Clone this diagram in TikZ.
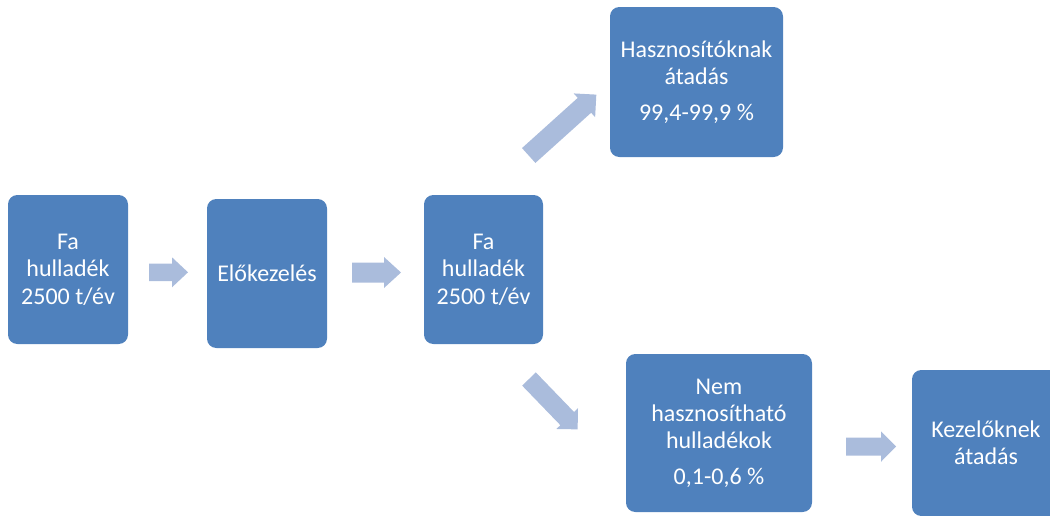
\documentclass[tikz,border=0pt]{standalone}
\usepackage{fontspec}
\setmainfont{Carlito}
\definecolor{boxblue}{HTML}{4F81BD}
\definecolor{arrowfill}{HTML}{AABCDC}
\tikzset{
  box/.style={rectangle, rounded corners=7pt, fill=boxblue, text=white,
    align=center, inner sep=2pt, font=\fontsize{18}{20.5}\selectfont},
}
\newcommand\blockarrow[7]{% x, y, angle, length, shaft width, head width, head length
  \begin{scope}[shift={(#1,#2)}, rotate=#3]
    \fill[arrowfill] (0,{-#5/2}) -- ({#4-#7},{-#5/2}) -- ({#4-#7},{-#6/2}) -- (#4,0)
      -- ({#4-#7},{#6/2}) -- ({#4-#7},{#5/2}) -- (0,{#5/2}) -- cycle;
  \end{scope}}
\begin{document}
\begin{tikzpicture}[x=0.75pt,y=-0.75pt]
\useasboundingbox (0,0) rectangle (1050,515);
\clip (0,0) rectangle (1050,515);
\node[box, minimum width=90pt, minimum height=111.75pt] (fa1) at (68,269.5) {Fa\\hulladék\\2500 t/év};
\node[box, minimum width=90pt, minimum height=111.75pt] (elo) at (267,273.5) {Előkezelés};
\node[box, minimum width=89.25pt, minimum height=111.75pt] (fa2) at (483.5,269.5) {Fa\\hulladék\\2500 t/év};
\node[box, minimum width=129.75pt, minimum height=112.5pt] (haszn) at (696.5,82) {Hasznosítóknak\\átadás\\[6pt]99,4-99,9 \%};
\node[box, minimum width=139.5pt, minimum height=118.5pt] (nem) at (719,433) {Nem\\hasznosítható\\hulladékok\\[6pt]0,1-0,6 \%};
\node[box, minimum width=111pt, minimum height=109.5pt] (kez) at (986,443) {Kezelőknek\\átadás};
\blockarrow{149}{272.3}{0}{39}{17.5}{30}{16}
\blockarrow{352}{272.5}{0}{49}{20}{31}{17}
\blockarrow{528.7}{155.5}{42}{91}{20}{32}{16}
\blockarrow{529}{379}{-46}{70}{19}{30}{15}
\blockarrow{846}{446.5}{0}{50}{18}{30.5}{15}
\end{tikzpicture}
\end{document}
